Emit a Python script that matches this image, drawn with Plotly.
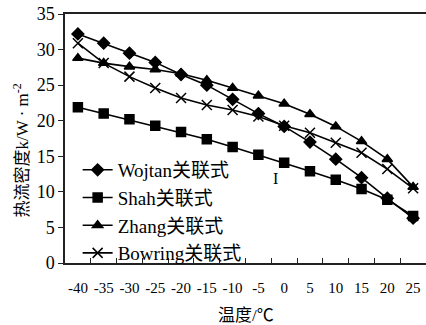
import plotly.graph_objects as go

temps = ["-40", "-35", "-30", "-25", "-20", "-15", "-10", "-5", "0", "5", "10", "15", "20", "25"]
wojtan = [32.2, 30.9, 29.5, 28.2, 26.5, 25.0, 23.0, 21.0, 19.2, 17.0, 14.6, 12.0, 9.1, 6.3]
shah = [21.9, 21.0, 20.2, 19.3, 18.4, 17.4, 16.3, 15.2, 14.1, 12.9, 11.7, 10.4, 8.9, 6.6]
zhang = [28.8, 28.1, 27.6, 27.2, 26.6, 25.7, 24.6, 23.5, 22.4, 20.9, 19.2, 17.1, 14.6, 10.7]
bowring = [30.9, 28.1, 26.2, 24.6, 23.2, 22.2, 21.5, 20.6, 19.3, 18.3, 16.9, 15.5, 13.2, 10.5]

series = [
    ("Wojtan关联式", wojtan, "diamond", 9),
    ("Shah关联式", shah, "square", 9),
    ("Zhang关联式", zhang, "triangle-up", 9),
    ("Bowring关联式", bowring, "x-thin-open", 10),
]

FONT = "Liberation Serif, Times New Roman, Noto Sans CJK SC, serif"

fig = go.Figure()
for name, vals, sym, sz in series:
    fig.add_trace(go.Scatter(
        x=temps, y=vals, name=name, mode="lines+markers",
        line=dict(color="black", width=1.6),
        marker=dict(symbol=sym, size=sz, color="black",
                    line=dict(color="black", width=1.5)),
    ))

fig.update_layout(
    width=426, height=325,
    margin=dict(l=65, r=0, t=14, b=62),
    paper_bgcolor="white", plot_bgcolor="white",
    font=dict(family=FONT, size=17, color="black"),
    showlegend=True,
    legend=dict(x=0.035, y=0.45, xanchor="left", yanchor="top",
                bgcolor="rgba(0,0,0,0)", font=dict(size=19),
                tracegroupgap=0, itemsizing="trace"),
    xaxis=dict(type="category", range=[-0.5, len(temps) - 0.5],
               showgrid=False, showline=True, linecolor="#222",
               linewidth=1.5, mirror=True, ticks="inside", tickson="boundaries",
               ticklen=5, tickcolor="#222", tickfont=dict(size=15),
               tickangle=0, ticklabelstandoff=10, zeroline=False,
               automargin=False),
    yaxis=dict(range=[0, 35], dtick=5, showgrid=False, showline=True,
               linecolor="#222", linewidth=1.5, ticks="outside", ticklen=5,
               tickcolor="#222", tickfont=dict(size=18), zeroline=False,
               automargin=False),
    annotations=[
        dict(text="热流密度k/W · m<sup>-2</sup>", xref="paper", yref="paper",
             x=-0.123, y=0.45, xanchor="center", yanchor="middle",
             textangle=-90, showarrow=False, font=dict(size=17)),
        dict(text="温度/℃", xref="paper", yref="paper",
             x=0.5, y=-0.165, xanchor="center", yanchor="top",
             showarrow=False, font=dict(size=17)),
        dict(text="I", xref="paper", yref="paper",
             x=0.582, y=0.341, xanchor="center", yanchor="middle",
             showarrow=False, font=dict(size=16)),
    ],
)

fig.write_html("out.html", config={"displayModeBar": False},
               post_script="document.body.style.margin='0';")
